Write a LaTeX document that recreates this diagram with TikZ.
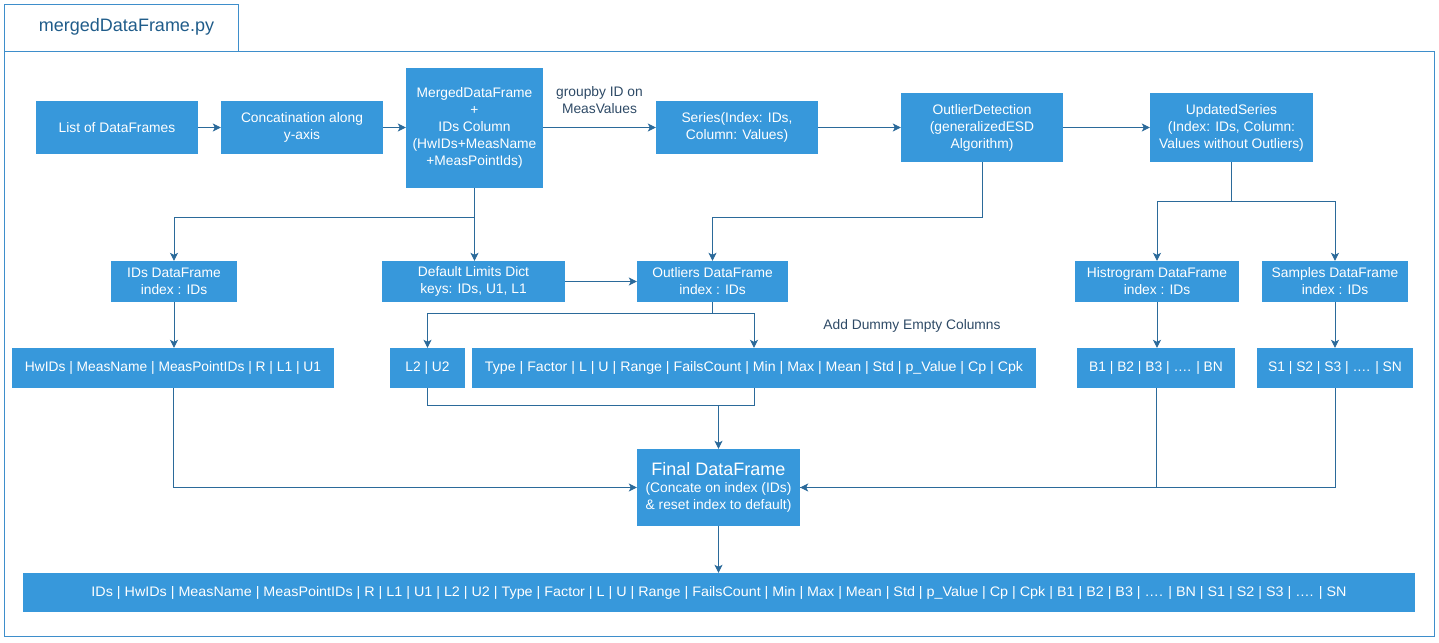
\documentclass[tikz,border=0pt]{standalone}
\usepackage{fontspec}
\setmainfont{Liberation Sans}
\usetikzlibrary{arrows.meta,positioning}
\definecolor{boxblue}{HTML}{3798DB}
\definecolor{linkblue}{HTML}{2B6A9A}
\definecolor{frameblue}{HTML}{3E8ECB}
\definecolor{titleblue}{HTML}{1F5C8A}
\definecolor{notegray}{HTML}{2E4A66}
\tikzset{
  block/.style={fill=boxblue, text=white, align=center, inner sep=0pt,
    font=\fontsize{13.8}{17}\selectfont},
  link/.style={draw=linkblue, line width=0.9pt,
    -{Stealth[length=8pt,width=8pt,inset=2pt]}},
  wire/.style={draw=linkblue, line width=0.9pt},
  note/.style={text=notegray, align=center, font=\fontsize{13.8}{17}\selectfont}
}
\begin{document}
\begin{tikzpicture}[x=1pt,y=-1pt]
  \useasboundingbox (0,0) rectangle (1439,642);
  % frame and tab
  \draw[frameblue, line width=1pt] (4,52) rectangle (1434,636);
  \draw[frameblue, line width=1pt] (4,52) -- (4,5) -- (238,5) -- (238,52);
  \node[text=titleblue, font=\fontsize{18}{21}\selectfont] (title) at (126.5,27) {mergedDataFrame.py};

  % first row
  \node[block, minimum width=162pt, minimum height=53pt] (list) at (117,127.5) {List of DataFrames};
  \node[block, minimum width=162pt, minimum height=53pt] (concat) at (302,127.5) {Concatination along\\y-axis};
  \node[block, minimum width=137pt, minimum height=120pt] (merged) at (474.5,128)
    {MergedDataFrame\\+\\IDs Column\\(HwIDs+MeasName\\+MeasPointIds)};
  \node[block, minimum width=162pt, minimum height=53pt] (series) at (737,127.5) {Series(Index: IDs,\\Column: Values)};
  \node[block, minimum width=162pt, minimum height=69pt] (outlier) at (982,127.5)
    {OutlierDetection\\(generalizedESD\\Algorithm)};
  \node[block, minimum width=163pt, minimum height=69pt] (updated) at (1231.5,127.5)
    {UpdatedSeries\\(Index: IDs, Column:\\Values without Outliers)};

  % second row
  \node[block, minimum width=126pt, minimum height=41pt] (idsdf) at (174,281.5) {IDs DataFrame\\index : IDs};
  \node[block, minimum width=183pt, minimum height=41pt] (limits) at (473.5,281.5) {Default Limits Dict\\keys: IDs, U1, L1};
  \node[block, minimum width=151pt, minimum height=41pt] (outliers) at (712.5,281.5) {Outliers DataFrame\\index : IDs};
  \node[block, minimum width=164pt, minimum height=41pt] (hist) at (1157,281.5) {Histrogram DataFrame\\index : IDs};
  \node[block, minimum width=146pt, minimum height=41pt] (samples) at (1335,281.5) {Samples DataFrame\\index : IDs};

  % third row
  \node[block, minimum width=322pt, minimum height=40pt] (hwids) at (173,368) {HwIDs | MeasName | MeasPointIDs | R | L1 | U1};
  \node[block, minimum width=75pt, minimum height=40pt] (l2u2) at (427.5,368) {L2 | U2};
  \node[block, minimum width=564pt, minimum height=40pt] (typecols) at (754,368)
    {\resizebox{538pt}{\height}{Type | Factor | L | U | Range | FailsCount | Min | Max | Mean | Std | p\_Value | Cp | Cpk}};
  \node[block, minimum width=158pt, minimum height=40pt] (bins) at (1156,368) {B1 | B2 | B3 | …. | BN};
  \node[block, minimum width=156pt, minimum height=40pt] (samplecols) at (1335,368) {S1 | S2 | S3 | …. | SN};
  \node[note] (dummy) at (912,326) {Add Dummy Empty Columns};

  % result
  \node[block, minimum width=163pt, minimum height=77pt] (final) at (718.5,487.5)
    {{\fontsize{18}{21}\selectfont Final DataFrame}\\(Concate on index (IDs)\\\& reset index to default)};
  \node[block, minimum width=1392pt, minimum height=39pt] (allcols) at (719,592.5)
    {\resizebox{1255pt}{\height}{IDs | HwIDs | MeasName | MeasPointIDs | R | L1 | U1 | L2 | U2 | Type | Factor | L | U | Range | FailsCount | Min | Max | Mean | Std | p\_Value | Cp | Cpk | B1 | B2 | B3 | …. | BN | S1 | S2 | S3 | …. | SN}};

  % connectors
  \draw[link] (list) -- (concat);
  \draw[link] (concat) -- (concat -| merged.west);
  \draw[link] (merged.east |- series) -- node[note, midway, above=10pt] (groupby) {groupby ID on\\MeasValues} (series);
  \draw[link] (series) -- (outlier);
  \draw[link] (outlier) -- (updated);
  \draw[link] (merged.south) -- ++(0,29) -| (idsdf.north);
  \draw[link] (merged.south) -- (merged.south |- limits.north);
  \draw[link] (outlier.south) -- ++(0,55) -| (outliers.north);
  \draw[wire] (updated.south) -- ++(0,39) coordinate (splitU);
  \draw[link] (splitU) -| (hist.north);
  \draw[link] (splitU) -| (samples.north);
  \draw[link] (limits) -- (outliers);
  \draw[link] (idsdf.south) -- (idsdf.south |- hwids.north);
  \draw[wire] (outliers.south) -- ++(0,11) coordinate (splitO);
  \draw[link] (splitO) -| (l2u2.north);
  \draw[link] (splitO) -| (typecols.north);
  \draw[link] (hist.south) -- (hist.south |- bins.north);
  \draw[link] (samples) -- (samplecols);
  \draw[wire] (l2u2.south) -- ++(0,17) coordinate (joinL) -| (typecols.south);
  \draw[link] (joinL -| final.north) -- (final.north);
  \draw[link] (hwids.south) |- (final.west);
  \draw[wire] (samplecols.south) |- (final.east);
  \draw[link] (bins.south) |- (final.east);
  \draw[link] (final.south) -- (final.south |- allcols.north);
\end{tikzpicture}
\end{document}
